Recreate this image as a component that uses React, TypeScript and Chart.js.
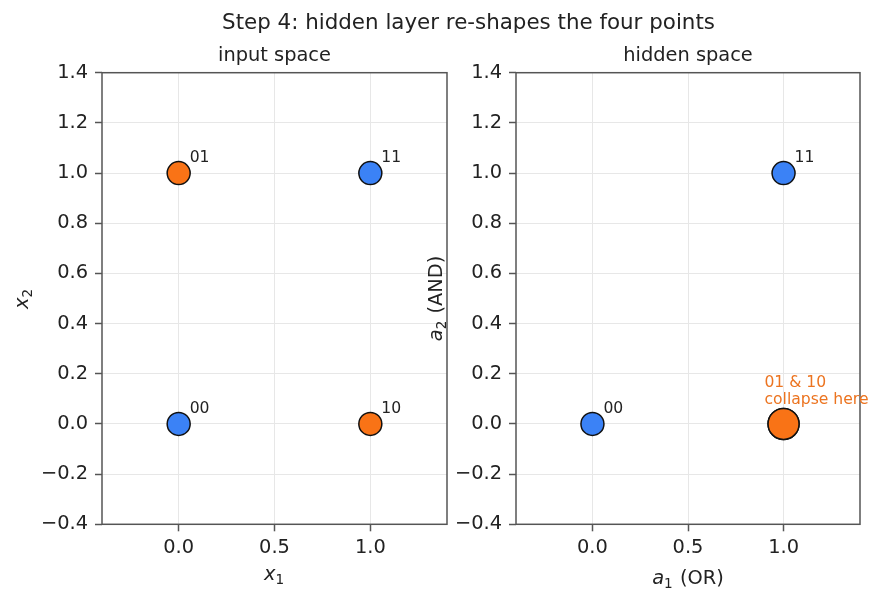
import React, { useEffect, useRef } from 'react';
import { Chart, registerables } from 'chart.js';

Chart.register(...registerables);

const FONT = "'DejaVu Sans', 'Liberation Sans', sans-serif";

// ---- data ----
const pointLabels = ['00', '01', '10', '11'];
const inputX1 = [0, 0, 1, 1];
const inputX2 = [0, 1, 0, 1];
const targetClass = [0, 1, 1, 0];
const hiddenA1 = [0, 1, 1, 1];
const hiddenA2 = [0, 0, 0, 1];
const xTickValues = [0, 0.5, 1.0];
const yTickValues = [-0.4, -0.2, 0, 0.2, 0.4, 0.6, 0.8, 1.0, 1.2, 1.4];
const axisRange = [-0.4, 1.4];
const figureTitle = 'Step 4: hidden layer re-shapes the four points';
const panelTitles = ['input space', 'hidden space'];
const collapseNote = ['01 & 10', 'collapse here'];
const collapseNoteAt = [0.9, 0.08];

type Seg = { t: string; i?: boolean; sub?: boolean };
const xAxisLabels: Seg[][] = [
  [{ t: 'x', i: true }, { t: '1', sub: true }],
  [{ t: 'a', i: true }, { t: '1', sub: true }, { t: ' (OR)' }],
];
const yAxisLabels: Seg[][] = [
  [{ t: 'x', i: true }, { t: '2', sub: true }],
  [{ t: 'a', i: true }, { t: '2', sub: true }, { t: ' (AND)' }],
];

// ---- style / layout ----
const W = 882;
const H = 602;
const CLASS_COLORS = ['#3b82f6', '#f97316'];
const NOTE_COLOR = '#ec7420';
const TEXT = '#222';
const SPINE = '#555';
const GRID = '#e7e7e7';
const PANELS = [
  { left: 102, right: 447 },
  { left: 516, right: 860 },
];
const AREA_TOP = 72.7;
const AREA_BOTTOM = 524.3;
const Y_AXIS_W = 60;
const F_TICK = 19.4;
const F_TITLE = 19.4;
const F_SUP = 21.4;
const F_SMALL = 15.6;
const X_LABEL_BASELINES = [580, 584];
const Y_LABEL_BASELINES = [28, 442];

const fmt = (v: any) => {
  const n = Number(v);
  const s = Math.abs(n).toFixed(1);
  return n < -1e-9 ? '\u2212' + s : s;
};

function segFont(s: Seg, size: number) {
  const sz = s.sub ? size * 0.7 : size;
  return `${s.i ? 'italic ' : ''}${sz}px ${FONT}`;
}

function drawSegs(ctx: CanvasRenderingContext2D, segs: Seg[], size: number, cx: number, baseline: number) {
  const widths = segs.map((s) => {
    ctx.font = segFont(s, size);
    return ctx.measureText(s.t).width + (s.sub ? size * 0.05 : 0);
  });
  const total = widths.reduce((a, b) => a + b, 0);
  let x = cx - total / 2;
  ctx.textAlign = 'left';
  ctx.textBaseline = 'alphabetic';
  segs.forEach((s, k) => {
    ctx.font = segFont(s, size);
    ctx.fillText(s.t, x, baseline + (s.sub ? size * 0.2 : 0));
    x += widths[k];
  });
}

function makeConfig(p: number): any {
  const xs = p === 0 ? inputX1 : hiddenA1;
  const ys = p === 0 ? inputX2 : hiddenA2;
  const key = (i: number) => xs[i] + ',' + ys[i];
  const collapsed = xs.map((_, i) => xs.some((__, j) => j !== i && key(j) === key(i)));
  const data = xs.map((x, i) => ({ x, y: ys[i] }));
  const panel = PANELS[p];

  const decor = {
    id: 'decor' + p,
    afterDraw(chart: any) {
      const ctx: CanvasRenderingContext2D = chart.ctx;
      const a = chart.chartArea;
      const sx = chart.scales.x;
      const sy = chart.scales.y;
      ctx.save();
      // spines
      ctx.strokeStyle = SPINE;
      ctx.lineWidth = 1.5;
      ctx.strokeRect(a.left, a.top, a.right - a.left, a.bottom - a.top);

      ctx.fillStyle = TEXT;
      // figure title
      if (p === 0) {
        ctx.font = `${F_SUP}px ${FONT}`;
        ctx.textAlign = 'center';
        ctx.textBaseline = 'alphabetic';
        ctx.fillText(figureTitle, 468.5, 28.7);
      }
      // panel title
      ctx.font = `${F_TITLE}px ${FONT}`;
      ctx.textAlign = 'center';
      ctx.textBaseline = 'alphabetic';
      ctx.fillText(panelTitles[p], (a.left + a.right) / 2, 60.5);

      // axis labels
      drawSegs(ctx, xAxisLabels[p], F_TICK, (a.left + a.right) / 2, X_LABEL_BASELINES[p]);
      ctx.save();
      ctx.translate(Y_LABEL_BASELINES[p], (a.top + a.bottom) / 2);
      ctx.rotate(-Math.PI / 2);
      drawSegs(ctx, yAxisLabels[p], F_TICK, 0, 0);
      ctx.restore();

      // point labels
      ctx.font = `${F_SMALL}px ${FONT}`;
      ctx.textAlign = 'left';
      ctx.textBaseline = 'alphabetic';
      ctx.fillStyle = TEXT;
      xs.forEach((x, i) => {
        if (collapsed[i]) return;
        const px = sx.getPixelForValue(x);
        const py = sy.getPixelForValue(ys[i]);
        ctx.fillText(pointLabels[i], px + 11, py - 11);
      });

      // collapse note
      if (p === 1) {
        ctx.fillStyle = NOTE_COLOR;
        const nx = sx.getPixelForValue(collapseNoteAt[0]);
        const ny = sy.getPixelForValue(collapseNoteAt[1]);
        ctx.fillText(collapseNote[0], nx, ny - 17.2);
        ctx.fillText(collapseNote[1], nx, ny);
      }
      ctx.restore();
    },
  };

  const tickFont = { family: FONT, size: F_TICK };
  const grid = { color: GRID, lineWidth: 1, tickColor: SPINE, tickLength: 7, tickWidth: 1.5, drawTicks: true };

  return {
    type: 'scatter',
    data: {
      datasets: [
        {
          data,
          pointBackgroundColor: xs.map((_, i) => CLASS_COLORS[targetClass[i]]),
          pointBorderColor: '#111',
          pointBorderWidth: 1.5,
          pointRadius: collapsed.map((c) => (c ? 15.5 : 11.5)),
          pointHoverRadius: collapsed.map((c) => (c ? 15.5 : 11.5)),
          clip: false,
        },
      ],
    },
    options: {
      responsive: false,
      animation: false,
      devicePixelRatio: 1,
      events: [],
      layout: {
        padding: {
          left: panel.left - Y_AXIS_W,
          right: W - panel.right,
          top: AREA_TOP,
          bottom: 0,
        },
      },
      plugins: { legend: { display: false }, tooltip: { enabled: false }, title: { display: false } },
      scales: {
        x: {
          type: 'linear',
          min: axisRange[0],
          max: axisRange[1],
          afterBuildTicks: (s: any) => {
            s.ticks = xTickValues.map((v) => ({ value: v }));
          },
          afterFit: (s: any) => {
            s.height = H - AREA_BOTTOM;
          },
          ticks: { callback: fmt, font: tickFont, color: TEXT, padding: 5, maxRotation: 0, autoSkip: false },
          grid,
          border: { display: false },
        },
        y: {
          type: 'linear',
          min: axisRange[0],
          max: axisRange[1],
          afterBuildTicks: (s: any) => {
            s.ticks = yTickValues.map((v) => ({ value: v }));
          },
          afterFit: (s: any) => {
            s.width = Y_AXIS_W;
          },
          ticks: { callback: fmt, font: tickFont, color: TEXT, padding: 7, autoSkip: false },
          grid,
          border: { display: false },
        },
      },
    },
    plugins: [decor],
  };
}

export default function App() {
  const leftRef = useRef<HTMLCanvasElement>(null);
  const rightRef = useRef<HTMLCanvasElement>(null);

  useEffect(() => {
    const charts = [leftRef, rightRef].map((r, p) => new Chart(r.current as HTMLCanvasElement, makeConfig(p)));
    return () => charts.forEach((c) => c.destroy());
  }, []);

  const cstyle: React.CSSProperties = { position: 'absolute', left: 0, top: 0, width: W, height: H };
  return (
    <div style={{ position: 'fixed', left: 0, top: 0, width: W, height: H, background: '#fff' }}>
      <canvas ref={leftRef} width={W} height={H} style={cstyle} />
      <canvas ref={rightRef} width={W} height={H} style={cstyle} />
    </div>
  );
}
